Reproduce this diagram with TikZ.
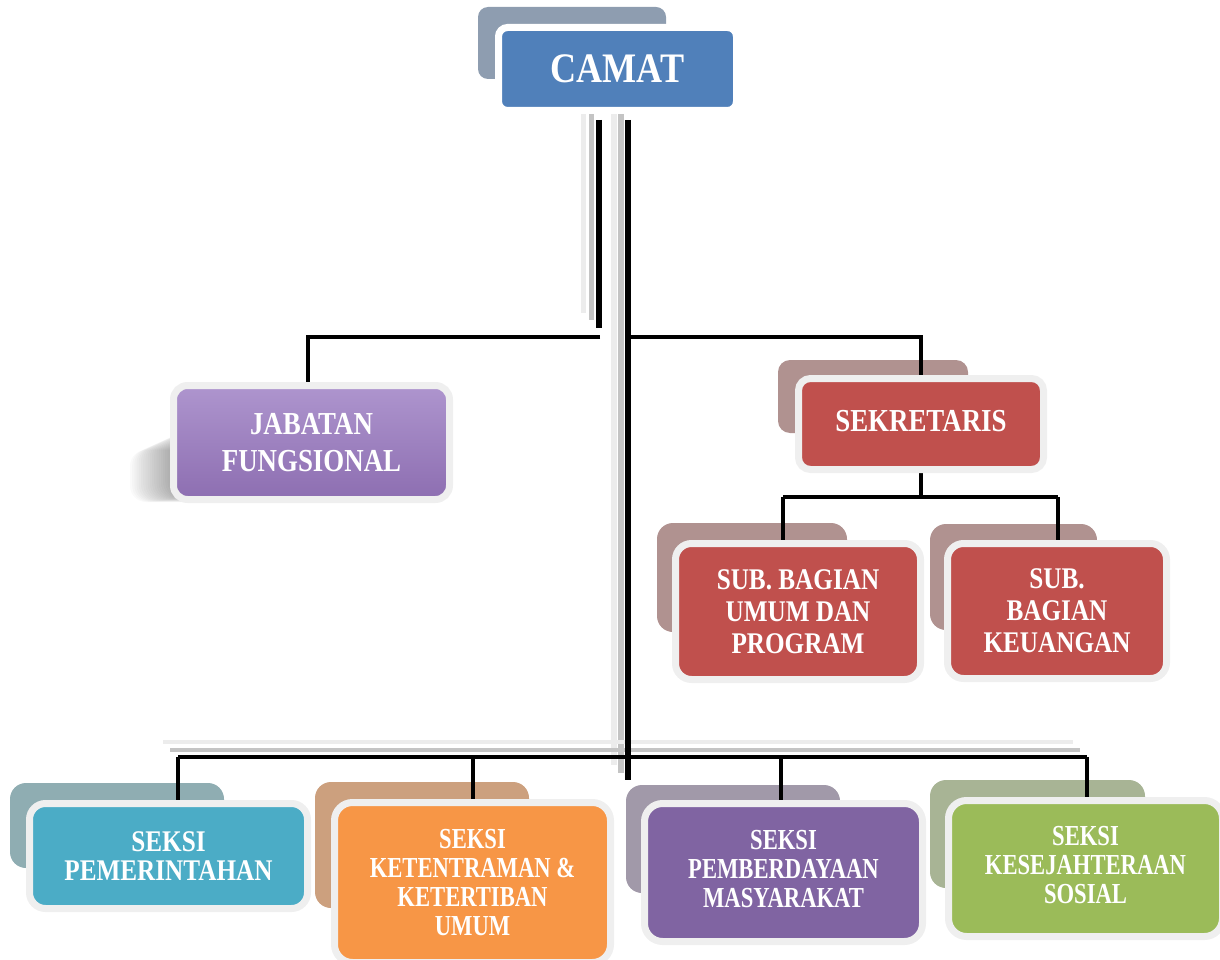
\documentclass[tikz,border=0pt]{standalone}
\usepackage{fontspec}
\newfontfamily\lbl[FakeStretch=0.84]{Liberation Serif}
\newfontfamily\lblc[FakeStretch=0.86]{Liberation Serif}
\newfontfamily\lbln[FakeStretch=0.78]{Liberation Serif}
\definecolor{camatc}{HTML}{5080BA}
\definecolor{camatsh}{HTML}{8E9DB0}
\definecolor{jabtop}{HTML}{AE95CE}
\definecolor{jabbot}{HTML}{8D6EB1}
\definecolor{sekc}{HTML}{C0504D}
\definecolor{redsh}{HTML}{B09290}
\definecolor{tealc}{HTML}{4BACC6}
\definecolor{tealsh}{HTML}{8FADB2}
\definecolor{orc}{HTML}{F79646}
\definecolor{orsh}{HTML}{CCA07E}
\definecolor{purc}{HTML}{8064A2}
\definecolor{pursh}{HTML}{A199A9}
\definecolor{grc}{HTML}{9BBB59}
\definecolor{grsh}{HTML}{A8B495}
\definecolor{bordc}{HTML}{EFEFEF}
\definecolor{lineg}{HTML}{C4C4C4}
\definecolor{linel}{HTML}{ECECEC}
\pgfdeclarelayer{shad}
\pgfdeclarelayer{lines}
\pgfsetlayers{shad,lines,main}
\begin{document}
\begin{tikzpicture}[x=1pt,y=-1pt,
  box/.style={draw=bordc, line width=7pt, text=white, align=center, inner sep=0pt,
    rounded corners=14pt, font=\lbl\bfseries\fontsize{30}{29}\selectfont},
  narrowtext/.style={font=\lbln\bfseries\fontsize{29}{29}\selectfont},
  shadowbox/.style={fill=#1, rounded corners=12pt},
  conn/.style={draw=black, line width=3.5pt},
  trunk/.style={draw=black, line width=5.5pt},
  ghost/.style={draw=#1, line width=5pt}]
\useasboundingbox (0,0) rectangle (1220,960);

% ---------- back shadows ----------
\begin{pgfonlayer}{shad}
  \fill[shadowbox=camatsh, rounded corners=10pt] (478,7) rectangle (666,79);
  \fill[shadowbox=redsh] (778,360) rectangle (968,433);
  \fill[shadowbox=redsh, rounded corners=16pt] (657,523) rectangle (847,632);
  \fill[shadowbox=redsh, rounded corners=16pt] (930,524) rectangle (1097,630);
  \fill[shadowbox=tealsh, rounded corners=16pt] (10,783) rectangle (224,868);
  \fill[shadowbox=orsh, rounded corners=16pt] (315,782) rectangle (529,908);
  \fill[shadowbox=pursh, rounded corners=16pt] (626,785) rectangle (840,893);
  \fill[shadowbox=grsh, rounded corners=16pt] (930,780) rectangle (1145,888);
  \foreach \i in {1,...,20}
    \fill[black, opacity=0.018, rounded corners=16pt]
      ({174-2.2*\i},{430+1*\i}) rectangle (430,{497+0.25*\i});
\end{pgfonlayer}

% ---------- boxes ----------
\node[box, fill=camatc, draw=white, rounded corners=9pt, minimum width=238pt, minimum height=83pt,
  font=\lblc\bfseries\fontsize{42}{44}\selectfont] (camat) at (617.5,69) {CAMAT};

\node[box, top color=jabtop, bottom color=jabbot, minimum width=276pt, minimum height=114pt,
  font=\lbl\bfseries\fontsize{32}{37}\selectfont] (jab) at (311.5,442.5) {JABATAN\\FUNGSIONAL};

\node[box, fill=sekc, rounded corners=12pt, minimum width=245pt, minimum height=91pt,
  font=\lbl\bfseries\fontsize{32}{32}\selectfont]
  (sek) at (921,424) {\raisebox{7pt}{SEKRETARIS}};

\node[box, fill=sekc, rounded corners=16pt, minimum width=245pt, minimum height=136pt,
  font=\lbl\bfseries\fontsize{30}{32}\selectfont] (sub1) at (798,611.5) {SUB. BAGIAN\\UMUM DAN\\PROGRAM};
\node[box, fill=sekc, rounded corners=16pt, minimum width=219pt, minimum height=135pt,
  font=\lbl\bfseries\fontsize{30}{32}\selectfont] (sub2) at (1057,611) {SUB.\\BAGIAN\\KEUANGAN};

\node[box, fill=tealc, rounded corners=16pt, minimum width=278pt, minimum height=105pt]
  (s1) at (168.5,856) {SEKSI\\PEMERINTAHAN};
\node[box, narrowtext, fill=orc, rounded corners=18pt, minimum width=276pt, minimum height=160pt]
  (s2) at (472.5,882.5) {SEKSI\\KETENTRAMAN \&\\KETERTIBAN\\UMUM};
\node[box, narrowtext, fill=purc, rounded corners=18pt, minimum width=278pt, minimum height=138pt]
  (s3) at (783.5,872.5) {\raisebox{5pt}{\begin{tabular}{@{}c@{}}SEKSI\\PEMBERDAYAAN\\MASYARAKAT\end{tabular}}};
\node[box, narrowtext, fill=grc, rounded corners=18pt, minimum width=274pt, minimum height=136pt]
  (s4) at (1085.5,868.5) {\raisebox{5pt}{\begin{tabular}{@{}c@{}}SEKSI\\KESEJAHTERAAN\\SOSIAL\end{tabular}}};

% ---------- connectors ----------
\coordinate (t1) at (599,120);   \coordinate (t1b) at (599,328);
\coordinate (t2) at (628,120);   \coordinate (t2b) at (628,780);
\coordinate (hl) at (600,337);   \coordinate (jj) at (308,337);
\coordinate (hr) at (627,337);
\coordinate (sj) at (921,497);
\coordinate (sa) at (783,497);   \coordinate (sb) at (1058,497);
\coordinate (b1) at (178,757);   \coordinate (b2) at (473,757);
\coordinate (b3) at (781,757);   \coordinate (b4) at (1087,757);

\begin{pgfonlayer}{lines}
  % faded ghost strokes
  \draw[ghost=linel] (583.5,106) -- (583.5,313);
  \draw[ghost=lineg] (591,110) -- (591,320);
  \draw[ghost=linel, line width=6pt] (613.5,106) -- (613.5,765);
  \draw[ghost=lineg, line width=6pt] (620.5,110) -- (620.5,773);
  \draw[ghost=linel, line width=4pt] (163,742) -- (1073,742);
  \draw[ghost=lineg, line width=4pt] (170,749.5) -- (1080,749.5);
  % trunks
  \draw[trunk] (t1) -- (t1b);
  \draw[trunk, line width=6pt] (t2) -- (t2b);
  % upper branch
  \draw[conn] (hl) -- (jj) -- (jj |- jab.north);
  \draw[conn] (hr) -| (sek.north);
  % sekretaris branch
  \draw[conn] (sek.south) -- (sj);
  \draw[conn] (sa) -- (sb);
  \draw[conn] (sa) -- (sa |- sub1.north);
  \draw[conn] (sb) -- (sb |- sub2.north);
  % bottom branch
  \draw[conn] (b1) -- (b4);
  \draw[conn] (b1) -- (b1 |- s1.north);
  \draw[conn] (b2) -- (b2 |- s2.north);
  \draw[conn] (b3) -- (b3 |- s3.north);
  \draw[conn] (b4) -- (b4 |- s4.north);
\end{pgfonlayer}
\end{tikzpicture}
\end{document}
